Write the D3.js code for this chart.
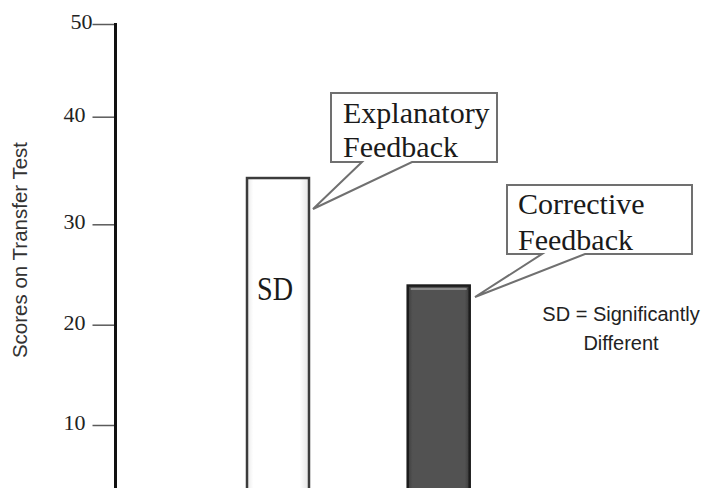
<!DOCTYPE html>
<html><head><meta charset="utf-8">
<script src="https://cdn.jsdelivr.net/npm/d3@7"></script>
<style>html,body{margin:0;padding:0;background:#fff;overflow:hidden}</style>
</head><body>
<script>
const categories = ["Explanatory Feedback", "Corrective Feedback"];
const scores = [34.3, 23.9];
const barLabels = ["SD", ""];
const tickValues = [10, 20, 30, 40, 50];
const yLabel = "Scores on Transfer Test";
const noteLines = ["SD = Significantly", "Different"];

const W = 706, H = 488;
const svg = d3.select("body").append("svg").attr("width", W).attr("height", H);

// hand-drawn axis: tick spacing is slightly uneven in the original
const y = d3.scaleLinear().domain(tickValues).range([425, 324.7, 224.3, 116.7, 24]);
const x = d3.scalePoint().domain(categories).range([278, 438.7]);
const barW = 62;

const defs = svg.append("defs");
const g1 = defs.append("linearGradient").attr("id", "darkGrad").attr("x1", 0).attr("x2", 1);
g1.append("stop").attr("offset", 0).attr("stop-color", "#3e3e3e");
g1.append("stop").attr("offset", 0.08).attr("stop-color", "#525252");
g1.append("stop").attr("offset", 0.92).attr("stop-color", "#525252");
g1.append("stop").attr("offset", 1).attr("stop-color", "#3a3a3a");
const g2 = defs.append("linearGradient").attr("id", "whiteGrad").attr("x1", 0).attr("x2", 1);
g2.append("stop").attr("offset", 0).attr("stop-color", "#e8e8e8");
g2.append("stop").attr("offset", 0.1).attr("stop-color", "#ffffff");
g2.append("stop").attr("offset", 0.85).attr("stop-color", "#ffffff");
g2.append("stop").attr("offset", 1).attr("stop-color", "#e4e4e4");

// bars
const bars = svg.append("g");
bars.selectAll("rect").data(scores).join("rect")
  .attr("x", (d, i) => x(categories[i]) - barW / 2)
  .attr("y", d => y(d))
  .attr("width", barW)
  .attr("height", d => y(0) - y(d))
  .attr("fill", (d, i) => i === 0 ? "url(#whiteGrad)" : "url(#darkGrad)")
  .attr("stroke", (d, i) => i === 0 ? "#3c3c3c" : "#1c1c1c")
  .attr("stroke-width", 2.5);
// highlight on the dark bar top
bars.append("line")
  .attr("x1", x(categories[1]) - barW / 2 + 3).attr("x2", x(categories[1]) + barW / 2 - 3)
  .attr("y1", y(scores[1]) + 3.5).attr("y2", y(scores[1]) + 3.5)
  .attr("stroke", "#8a8a8a").attr("stroke-width", 2);

bars.selectAll("text").data(barLabels.filter(d => d)).join("text")
  .attr("x", (d, i) => x(categories[i]) - 3)
  .attr("y", 300)
  .attr("text-anchor", "middle")
  .attr("font-family", "Liberation Serif, Times New Roman, serif")
  .attr("font-size", 33)
  .attr("textLength", 36).attr("lengthAdjust", "spacingAndGlyphs")
  .attr("fill", "#1a1a1a")
  .text(d => d);

// axis
const axis = d3.axisLeft(y).tickValues(tickValues).tickSize(23).tickPadding(7).tickFormat(d3.format("d"));
const ax = svg.append("g").attr("transform", "translate(115.5,0)").call(axis);
ax.select(".domain").remove();
ax.selectAll(".tick line").attr("stroke", "#5a5a5a").attr("stroke-width", 1.5);
ax.selectAll(".tick text")
  .attr("font-family", "Liberation Serif, Times New Roman, serif")
  .attr("font-size", 22).attr("fill", "#222")
  .attr("dy", "0.2em");
ax.selectAll(".tick").filter(d => d === 50).select("text").attr("x", -23);
svg.append("line").attr("x1", 115.5).attr("x2", 115.5).attr("y1", y(50) - 1).attr("y2", H)
  .attr("stroke", "#111").attr("stroke-width", 3);

// y label
svg.append("text")
  .attr("transform", "translate(27,250) rotate(-90)")
  .attr("text-anchor", "middle")
  .attr("font-family", "Liberation Sans, Arial, sans-serif")
  .attr("font-size", 20.5).attr("fill", "#333")
  .text(yLabel);

// callouts
const callouts = [
  {lines: ["Explanatory", "Feedback"], box: [331, 93, 497, 162], base: [362, 412], tip: [313, 209], tx: 343, ty: [123, 157]},
  {lines: ["Corrective", "Feedback"], box: [507, 185, 692, 254], base: [542, 585], tip: [475, 297], tx: 518, ty: [214, 250]}
];
callouts.forEach(c => {
  const [l, t, r, b] = c.box;
  const p = d3.path();
  p.moveTo(l, t); p.lineTo(r, t); p.lineTo(r, b); p.lineTo(c.base[1], b);
  p.lineTo(c.tip[0], c.tip[1]); p.lineTo(c.base[0], b); p.lineTo(l, b); p.closePath();
  svg.append("path").attr("d", p.toString()).attr("fill", "#fff")
    .attr("stroke", "#707070").attr("stroke-width", 2).attr("stroke-linejoin", "miter");
  svg.append("g").selectAll("text").data(c.lines).join("text")
    .attr("x", c.tx).attr("y", (d, i) => c.ty[i])
    .attr("font-family", "Liberation Serif, Times New Roman, serif")
    .attr("font-size", 30).attr("fill", "#1a1a1a")
    .text(d => d);
});

// note
svg.append("g").selectAll("text").data(noteLines).join("text")
  .attr("x", 621).attr("y", (d, i) => 321 + i * 29)
  .attr("text-anchor", "middle")
  .attr("font-family", "Liberation Sans, Arial, sans-serif")
  .attr("font-size", 20).attr("fill", "#222")
  .text(d => d);
</script>
</body></html>
